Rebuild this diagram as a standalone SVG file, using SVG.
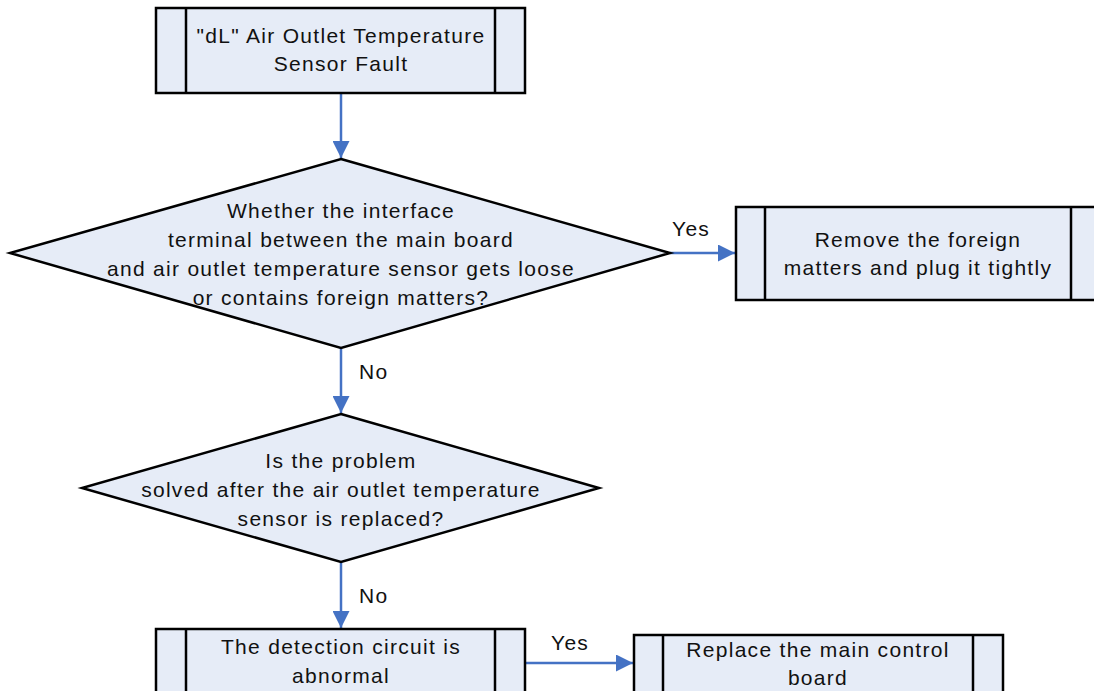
<svg xmlns="http://www.w3.org/2000/svg" width="1094" height="691" viewBox="0 0 1094 691">
<defs>
<style>
.box{fill:#E6ECF7;stroke:#000;stroke-width:2.5}
.ln{stroke:#000;stroke-width:2.5;fill:none}
.t{font-family:"Liberation Sans",Arial,sans-serif;font-size:21px;letter-spacing:1.3px;fill:#111;text-anchor:middle}
.c{stroke:#4472C4;stroke-width:2.5;fill:none;marker-end:url(#ah)}
.lbl{font-family:"Liberation Sans",Arial,sans-serif;font-size:21px;letter-spacing:1.3px;fill:#111}
</style>
<marker id="ah" viewBox="0 0 10 10" refX="10" refY="5" markerWidth="17" markerHeight="17" markerUnits="userSpaceOnUse" orient="auto">
<path d="M0,0 L10,5 L0,10 z" fill="#4472C4"/>
</marker>
</defs>
<rect width="1094" height="691" fill="#fff"/>
<g id="connectors">
<line class="c" x1="341" y1="93" x2="341" y2="158"/>
<line class="c" x1="670" y1="253" x2="735" y2="253"/>
<line class="c" x1="341" y1="348" x2="341" y2="413"/>
<line class="c" x1="341" y1="562" x2="341" y2="628"/>
<line class="c" x1="525" y1="663" x2="633" y2="663"/>
<text class="lbl" x="672" y="236">Yes</text>
<text class="lbl" x="359" y="379">No</text>
<text class="lbl" x="359" y="603">No</text>
<text class="lbl" x="551" y="650">Yes</text>
</g>
<g id="start">
<rect class="box" x="156" y="8" width="369" height="85"/>
<line class="ln" x1="186" y1="8" x2="186" y2="93"/>
<line class="ln" x1="495" y1="8" x2="495" y2="93"/>
<text class="t" x="341" y="43">"dL" Air Outlet Temperature</text>
<text class="t" x="341" y="71">Sensor Fault</text>
</g>
<g id="decision1">
<polygon class="box" points="341,159 670,253 341,348 10,253"/>
<text class="t" x="341" y="218">Whether the interface</text>
<text class="t" x="341" y="247">terminal between the main board</text>
<text class="t" x="341" y="276">and air outlet temperature sensor gets loose</text>
<text class="t" x="341" y="305">or contains foreign matters?</text>
</g>
<g id="remove">
<rect class="box" x="736" y="207" width="370" height="93"/>
<line class="ln" x1="765" y1="207" x2="765" y2="300"/>
<line class="ln" x1="1071" y1="207" x2="1071" y2="300"/>
<text class="t" x="918" y="247">Remove the foreign</text>
<text class="t" x="918" y="275">matters and plug it tightly</text>
</g>
<g id="decision2">
<polygon class="box" points="341,414 599,488 341,562 82,488"/>
<text class="t" x="341" y="468">Is the problem</text>
<text class="t" x="341" y="497">solved after the air outlet temperature</text>
<text class="t" x="341" y="526">sensor is replaced?</text>
</g>
<g id="detection">
<rect class="box" x="156" y="629" width="369" height="80"/>
<line class="ln" x1="186" y1="629" x2="186" y2="709"/>
<line class="ln" x1="495" y1="629" x2="495" y2="709"/>
<text class="t" x="341" y="654">The detection circuit is</text>
<text class="t" x="341" y="683">abnormal</text>
</g>
<g id="replace">
<rect class="box" x="634" y="635" width="369" height="80"/>
<line class="ln" x1="663" y1="635" x2="663" y2="715"/>
<line class="ln" x1="973" y1="635" x2="973" y2="715"/>
<text class="t" x="818" y="657">Replace the main control</text>
<text class="t" x="818" y="685">board</text>
</g>
</svg>
